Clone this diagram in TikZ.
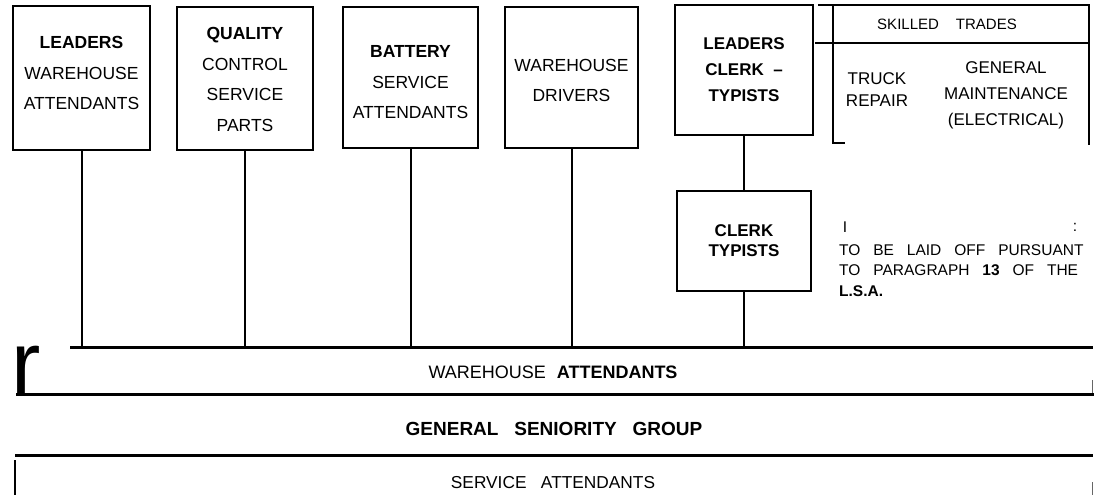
\documentclass[tikz,border=0pt]{standalone}
\usepackage{fontspec}
\setmainfont{Liberation Sans}
\newfontfamily\widefont[WordSpace=3]{Liberation Sans}
\begin{document}
\begin{tikzpicture}
[x=1pt,y=-1pt,
  boxDecorate/.style={shape=rectangle,draw,line width=1.8pt,inner sep=0pt,align=center,font=\fontsize{17.5}{30.5}\selectfont},%
  wireDecorate/.style={-,line width=2pt},%
  bandDecorate/.style={-,line width=3pt},%
  textDecorate/.style={inner sep=0pt,align=center},%
  tickDecorate/.style={-,line width=1pt,black!60}]
\useasboundingbox (0,0) rectangle (1099,500);
%% classification boxes along the top
\foreach \nodename/\x/\y/\w/\h/\dy/\txt in {
  lw/81.5/78/137/144/-5/{\textbf{LEADERS}\\WAREHOUSE\\ATTENDANTS},
  qc/245/78.5/136/143/1/{\textbf{QUALITY}\\CONTROL\\SERVICE\\PARTS},
  bs/410.5/77.5/135/141/5/{\bfseries BATTERY\\SERVICE\\ATTENDANTS},
  wd/571.5/77.5/133/141/3/{WAREHOUSE\\DRIVERS}}
{
  \node (\nodename) at (\x,\y) [boxDecorate,minimum width=\w,minimum height=\h] {};
  \node (\nodename-text) at (\x,\y+\dy) [textDecorate,font=\fontsize{17.5}{30.5}\selectfont] {\txt};
}
\node (lc) at (744,70) [boxDecorate,minimum width=138,minimum height=130,
  font=\fontsize{17}{26}\selectfont\bfseries] {LEADERS\\CLERK\ \ --\\TYPISTS};
\node (ct) at (744,241) [boxDecorate,minimum width=134,minimum height=100,
  font=\fontsize{17}{20}\selectfont\bfseries] {CLERK\\TYPISTS};
%% skilled trades
\coordinate (stTL) at (818,5);
\coordinate (stTR) at (1089,5);
\coordinate (stML) at (815,43);
\coordinate (stMR) at (1089,43);
\coordinate (stLT) at (833,5);
\coordinate (stLB) at (833,143);
\coordinate (stFoot) at (845,143);
\coordinate (stRB) at (1089,145);
\draw[wireDecorate] (stTL) -- (stTR) -- (stRB);
\draw[wireDecorate] (stML) -- (stMR);
\draw[wireDecorate] (stLT) -- (stLB) -- (stFoot);
\node (st) at (947,24) [textDecorate,font=\fontsize{15}{18}\selectfont] {SKILLED\hspace{17pt}TRADES};
\node (tr) at (877,90) [textDecorate,font=\fontsize{17}{22}\selectfont] {TRUCK\\REPAIR};
\node (gm) at (1006,95) [textDecorate,font=\fontsize{17}{26}\selectfont] {GENERAL\\MAINTENANCE\\(ELECTRICAL)};
%% note
\node (noteI) at (845,227) [textDecorate,font=\fontsize{15.5}{18}\selectfont] {I};
\node (noteColon) at (1075,227) [textDecorate,font=\fontsize{15.5}{18}\selectfont] {:};
\node (note) at (839,270.5) [anchor=west,inner sep=0pt,align=left,
  font=\fontsize{15.5}{20.5}\selectfont\widefont]
  {TO BE LAID OFF PURSUANT\\TO PARAGRAPH \textbf{13} OF THE\\\textbf{L.S.A.}};
%% seniority bands
\coordinate (waTL) at (70,347);
\coordinate (waTR) at (1093,347);
\coordinate (waBL) at (16,394);
\coordinate (waBR) at (1094,394);
\coordinate (saTL) at (15,455);
\coordinate (saTR) at (1093,455);
\draw[bandDecorate] (waTL) -- (waTR);
\draw[bandDecorate] (waBL) -- (waBR);
\draw[bandDecorate] (saTL) -- (saTR);
\node (bigR) at (11,393) [anchor=base west,inner sep=0pt,font=\fontsize{88}{88}\selectfont] {r};
\node (wa) at (553,372) [textDecorate,font=\fontsize{18}{20}\selectfont] {WAREHOUSE\hspace{11pt}\textbf{ATTENDANTS}};
\node (gsg) at (554,429) [textDecorate,font=\fontsize{19}{20}\selectfont\widefont\bfseries] {GENERAL SENIORITY GROUP};
\node (sa) at (553,483) [textDecorate,font=\fontsize{17.3}{20}\selectfont\widefont] {SERVICE ATTENDANTS};
%% stray marks of the band edges
\coordinate (tickA) at (1092,380);
\coordinate (tickB) at (1092,393);
\coordinate (tickC) at (1092,482);
\coordinate (tickD) at (1092,495);
\coordinate (barA) at (15,460);
\coordinate (barB) at (15,495);
\draw[tickDecorate] (tickA) -- (tickB);
\draw[tickDecorate] (tickC) -- (tickD);
\draw[wireDecorate] (barA) -- (barB);
%% connectors
\foreach \startnode in {lw, qc, bs, wd}
{
  \draw[wireDecorate] (\startnode.south) -- (\startnode.south |- waTL);
}
\draw[wireDecorate] (lc.south) -- (ct.north);
\draw[wireDecorate] (ct.south) -- (ct.south |- waTL);
\end{tikzpicture}
\end{document}
